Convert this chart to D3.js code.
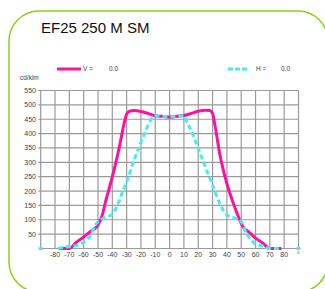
<!DOCTYPE html>
<html>
<head>
<meta charset="utf-8">
<script src="https://cdn.jsdelivr.net/npm/d3@7"></script>
<style>
  body { margin: 0; background: #fff; }
  text { font-family: "Liberation Sans", Arial, sans-serif; }
</style>
</head>
<body>
<div id="chart"></div>
<script>
// chart data
const title = "EF25 250 M SM";
const unitLabel = "cd/klm";
const xTicks = [-80, -70, -60, -50, -40, -30, -20, -10, 0, 10, 20, 30, 40, 50, 60, 70, 80];
const yTicks = [50, 100, 150, 200, 250, 300, 350, 400, 450, 500, 550];

// V plane (magenta, solid)
const vAngles = [-78, -70, -65, -60, -55, -52, -50, -47, -45, -40, -35, -32, -30, -28, -25, -20, -15, -10, -5, 0, 5, 10, 15, 20, 25, 28, 30, 31.5, 35, 40, 45, 50, 52, 55, 60, 65, 70, 78];
const vValues = [0, 0, 22, 40, 60, 70, 82, 116, 157, 249, 355, 430, 468, 478, 480, 477, 470, 462, 460, 457, 460, 463, 470, 478, 481, 480, 470, 434, 330, 226, 151, 88, 70, 59, 36, 19, 0, 0];

// H plane (cyan, dashed)
const hAngles = [-78, -70, -65, -60, -55, -52, -48, -45, -40, -37, -33, -30, -25, -20, -17, -15, -12, -10, -5, 0, 5, 10, 12, 15, 20, 25, 30, 35, 40, 45, 50, 52, 55, 60, 65, 70, 78];
const hValues = [0, 7, 10, 22, 47, 80, 101, 108, 119, 145, 195, 232, 305, 370, 405, 430, 455, 462, 460, 458, 460, 462, 440, 411, 348, 284, 221, 157, 117, 107, 94, 70, 42, 16, 9, 0, 0];
const hMarkers = [-90, 90];

const width = 325;
const height = 289;

const svg = d3
  .select("#chart")
  .append("svg")
  .attr("width", width)
  .attr("height", height);

// green rounded frame
svg
  .append("rect")
  .attr("x", 9)
  .attr("y", 11)
  .attr("width", 319)
  .attr("height", 281)
  .attr("rx", 30)
  .attr("fill", "none")
  .attr("stroke", "#8ccf1e")
  .attr("stroke-width", 1.5);

svg
  .append("text")
  .attr("x", 41)
  .attr("y", 33)
  .attr("font-size", 15)
  .attr("fill", "#111")
  .text(title);

const x = d3.scaleLinear().domain([-90, 90]).range([40.7, 298.5]);
const y = d3.scaleLinear().domain([0, 550]).range([248.5, 90.5]);

// grid
const grid = svg.append("g").attr("stroke", "#9a9a9a").attr("stroke-width", 1.2);
grid
  .selectAll("line.v")
  .data(d3.range(-90, 91, 10))
  .enter()
  .append("line")
  .attr("x1", (d) => x(d))
  .attr("x2", (d) => x(d))
  .attr("y1", y(550))
  .attr("y2", y(0));
grid
  .selectAll("line.h")
  .data([0].concat(yTicks))
  .enter()
  .append("line")
  .attr("x1", (d) => (d === 0 ? x(-90) : x(-90) - 2.5))
  .attr("x2", x(90))
  .attr("y1", (d) => y(d))
  .attr("y2", (d) => y(d));

// tick labels
svg
  .selectAll("text.ylab")
  .data(yTicks)
  .enter()
  .append("text")
  .attr("x", 36)
  .attr("y", (d) => y(d) + 2.5)
  .attr("text-anchor", "end")
  .attr("font-size", 7)
  .attr("fill", "#444")
  .text((d) => d);

svg
  .selectAll("text.xlab")
  .data(xTicks)
  .enter()
  .append("text")
  .attr("x", (d) => x(d))
  .attr("y", 257)
  .attr("text-anchor", "middle")
  .attr("font-size", 7)
  .attr("fill", "#444")
  .text((d) => d);

svg
  .append("text")
  .attr("x", x(90))
  .attr("y", 257)
  .attr("text-anchor", "middle")
  .attr("font-size", 7)
  .attr("fill", "#444")
  .text("°");

svg
  .append("text")
  .attr("x", 20)
  .attr("y", 80)
  .attr("font-size", 6.5)
  .attr("fill", "#444")
  .text(unitLabel);

// curves
const line = d3
  .line()
  .x((d) => x(d[0]))
  .y((d) => y(d[1]))
  .curve(d3.curveMonotoneX);

svg
  .append("path")
  .datum(d3.zip(vAngles, vValues))
  .attr("d", line)
  .attr("fill", "none")
  .attr("stroke", "#ff10a0")
  .attr("stroke-width", 3);

svg
  .append("path")
  .datum(d3.zip(hAngles, hValues))
  .attr("d", line)
  .attr("fill", "none")
  .attr("stroke", "#44eef0")
  .attr("stroke-width", 3)
  .attr("stroke-dasharray", "5,3");

svg
  .selectAll("rect.hm")
  .data(hMarkers)
  .enter()
  .append("rect")
  .attr("x", (d) => x(d) - 2)
  .attr("y", y(0) - 1.5)
  .attr("width", 4)
  .attr("height", 3)
  .attr("fill", "#44eef0");

// legend
const legend = svg.append("g").attr("font-size", 6.5).attr("fill", "#444");
legend
  .append("line")
  .attr("x1", 57)
  .attr("x2", 81)
  .attr("y1", 69)
  .attr("y2", 69)
  .attr("stroke", "#ff10a0")
  .attr("stroke-width", 3);
legend.append("text").attr("x", 83).attr("y", 71).text("V =");
legend.append("text").attr("x", 109).attr("y", 71).text("0.0");
legend
  .append("line")
  .attr("x1", 228)
  .attr("x2", 247)
  .attr("y1", 69)
  .attr("y2", 69)
  .attr("stroke", "#44eef0")
  .attr("stroke-width", 3)
  .attr("stroke-dasharray", "5,2");
legend.append("text").attr("x", 256).attr("y", 71).text("H =");
legend.append("text").attr("x", 281).attr("y", 71).text("0.0");
</script>
</body>
</html>
